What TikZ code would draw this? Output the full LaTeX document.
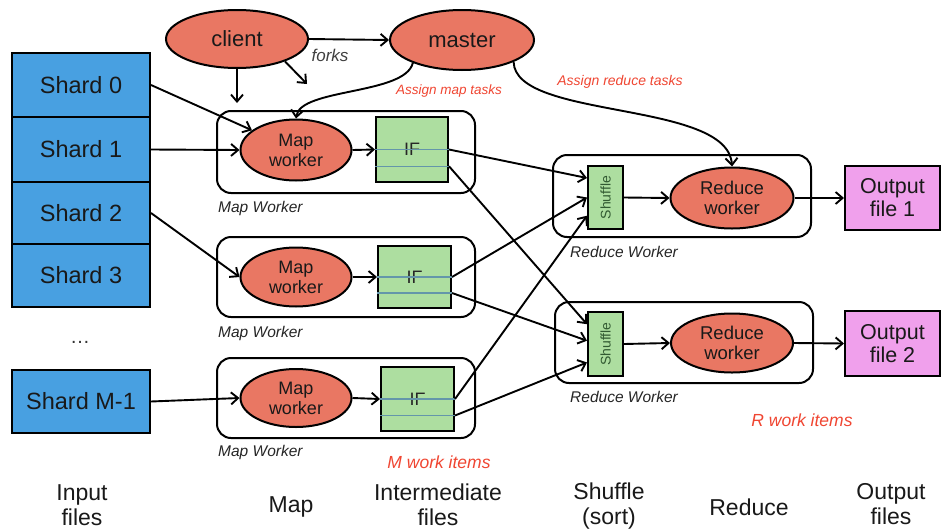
\documentclass[tikz,border=0pt]{standalone}
\usepackage{fontspec}
\setmainfont{Liberation Sans}
\usetikzlibrary{arrows.meta,shapes.geometric,calc}
\definecolor{shardblue}{RGB}{72,160,225}
\definecolor{ellred}{RGB}{233,119,99}
\definecolor{ifgreen}{RGB}{173,222,160}
\definecolor{outpink}{RGB}{240,160,236}
\definecolor{redtext}{RGB}{240,70,50}
\definecolor{ifline}{RGB}{100,150,170}
\definecolor{shtext}{RGB}{50,90,50}
\begin{document}
\begin{tikzpicture}[x=1pt,y=-1pt,
  ar/.style={line width=1.9pt,-{Straight Barb[length=7pt,width=12pt,line width=1.9pt]}},
  shard/.style={draw,line width=2pt,fill=shardblue,minimum width=138pt,inner sep=0pt,
    font=\fontsize{23.5}{25}\selectfont,text=black!90},
  ell/.style={ellipse,draw,line width=2pt,fill=ellred,inner sep=0pt,align=center,text=black!90},
  wbox/.style={draw,line width=2pt,rounded corners=14pt,inner sep=0pt},
  ifbox/.style={draw,line width=2pt,fill=ifgreen,inner sep=0pt,
    font=\fontsize{18}{20}\selectfont,text=black!85},
  shbox/.style={draw,line width=2pt,fill=ifgreen,inner sep=0pt,minimum width=35pt},
  outbox/.style={draw,line width=2pt,fill=outpink,inner sep=0pt,minimum width=95pt,
    align=center,font=\fontsize{21.5}{23}\selectfont,text=black!90},
  sublabel/.style={font=\fontsize{15.5}{17}\selectfont\itshape,text=black!85,anchor=west,inner sep=0pt},
  redlabel/.style={font=\fontsize{14}{16}\selectfont\itshape,text=redtext,inner sep=0pt},
  biglabel/.style={font=\fontsize{17.5}{19}\selectfont\itshape,text=redtext,inner sep=0pt},
  bottom/.style={font=\fontsize{23}{25}\selectfont,text=black!90,align=center,inner sep=0pt},
  ifsep/.style={line width=1.4pt,ifline}
]
\useasboundingbox[fill=white] (0,0) rectangle (941,530);

% shards
\node[shard,minimum height=64pt] (s0) at (81,85) {Shard 0};
\node[shard,minimum height=65pt] (s1) at (81,149.5) {Shard 1};
\node[shard,minimum height=62pt] (s2) at (81,213) {Shard 2};
\node[shard,minimum height=63pt] (s3) at (81,275.5) {Shard 3};
\node[shard,minimum height=63pt] (sm) at (81,401.5) {Shard M-1};
\node[font=\fontsize{20}{22}\selectfont,text=black!80] (dots) at (80,342) {\dots};

% worker boxes
\node[wbox,minimum width=258pt,minimum height=82pt] (mb1) at (346,152) {};
\node[wbox,minimum width=258pt,minimum height=80pt] (mb2) at (346,277) {};
\node[wbox,minimum width=258pt,minimum height=80pt] (mb3) at (346,398) {};
\node[wbox,minimum width=258pt,minimum height=82pt] (rb1) at (682,196) {};
\node[wbox,minimum width=258pt,minimum height=81pt] (rb2) at (684,342.5) {};

% client / master
\node[ell,minimum width=142pt,minimum height=58pt,font=\fontsize{22}{24}\selectfont] (client) at (237,39) {client};
\node[ell,minimum width=144pt,minimum height=60pt,font=\fontsize{22}{24}\selectfont] (master) at (462,40) {master};

% map workers
\node[ell,minimum width=111pt,minimum height=61pt,font=\fontsize{18}{20}\selectfont] (mw1) at (296,150) {Map\\worker};
\node[ell,minimum width=111pt,minimum height=59pt,font=\fontsize{18}{20}\selectfont] (mw2) at (296,277) {Map\\worker};
\node[ell,minimum width=111pt,minimum height=58pt,font=\fontsize{18}{20}\selectfont] (mw3) at (296,398) {Map\\worker};

% intermediate files
\node[ifbox,minimum width=72pt,minimum height=65pt] (if1) at (412,149.5) {IF};
\node[ifbox,minimum width=73pt,minimum height=62pt] (if2) at (414.5,277) {IF};
\node[ifbox,minimum width=73pt,minimum height=64pt] (if3) at (417.5,399) {IF};
\foreach \f in {if1,if2,if3}{
  \draw[ifsep] (\f.west) -- (\f.east);
  \draw[ifsep] ($(\f.north west)!0.75!(\f.south west)$) -- ($(\f.north east)!0.75!(\f.south east)$);
}

% shuffle
\node[shbox,minimum height=63pt] (sh1) at (605.5,197.5) {};
\node[shbox,minimum height=64pt] (sh2) at (605.5,344) {};
\node[rotate=90,font=\fontsize{14}{15}\selectfont,text=shtext,inner sep=0pt] (sh1t) at (sh1) {Shuffle};
\node[rotate=90,font=\fontsize{14}{15}\selectfont,text=shtext,inner sep=0pt] (sh2t) at (sh2) {Shuffle};

% reduce workers
\node[ell,minimum width=123pt,minimum height=61pt,font=\fontsize{18.5}{20.5}\selectfont] (rw1) at (732,198) {Reduce\\worker};
\node[ell,minimum width=122pt,minimum height=59pt,font=\fontsize{18.5}{20.5}\selectfont] (rw2) at (732,343) {Reduce\\worker};

% outputs
\node[outbox,minimum height=64pt] (out1) at (892.5,198) {Output\\file 1};
\node[outbox,minimum height=65pt] (out2) at (892.5,343.5) {Output\\file 2};

% labels
\node[font=\fontsize{17}{19}\selectfont\itshape,text=black!75,inner sep=0pt] (forks) at (330,55) {forks};
\node[redlabel,font=\fontsize{13.5}{15}\selectfont\itshape] (amt) at (449,91) {Assign map tasks};
\node[redlabel] (art) at (620,82) {Assign reduce tasks};
\node[sublabel] (l1) at (218,208) {Map Worker};
\node[sublabel] (l2) at (218,333) {Map Worker};
\node[sublabel] (l3) at (218,452) {Map Worker};
\node[sublabel] (l4) at (570,252) {Reduce Worker};
\node[sublabel] (l5) at (570,397) {Reduce Worker};
\node[biglabel] (mwi) at (439,462) {M work items};
\node[biglabel] (rwi) at (802,420) {R work items};

\node[bottom] (b1) at (82,505) {Input\\files};
\node[bottom] (b2) at (291,507) {Map};
\node[bottom] (b3) at (438,505) {Intermediate\\files};
\node[bottom] (b4) at (609,506) {Shuffle\\(sort)};
\node[bottom] (b5) at (749,507) {Reduce};
\node[bottom] (b6) at (891,504) {Output\\files};

% connectors
\coordinate (c1) at (237,103);
\coordinate (c2) at (307,84);
\draw[ar] (client.east) -- (master.west);
\draw[ar] (client.south) -- (c1);
\draw[ar] (client.-25) -- (c2);
\draw[ar] (master.205) .. controls (405,95) and (300,88) .. (mw1.north);
\draw[ar] (master.-23) .. controls (515,120) and (728,100) .. (rw1.north);

\draw[ar] (s0.east) -- (mw1);
\draw[ar] (s1.east) -- (mw1.west);
\draw[ar] (s2.east) -- (mw2.west);
\draw[ar] (sm.east) -- (mw3.west);

\draw[ar] (mw1.east) -- (if1.west);
\draw[ar] (mw2.east) -- (if2.west);
\draw[ar] (mw3.east) -- (if3.west);

\draw[ar] (if1.east) -- ($(sh1.north west)!0.2!(sh1.south west)$);
\draw[ar] ($(if1.north east)!0.75!(if1.south east)$) -- ($(sh2.north west)!0.2!(sh2.south west)$);
\draw[ar] (if2.east) -- ($(sh1.north west)!0.5!(sh1.south west)$);
\draw[ar] ($(if2.north east)!0.75!(if2.south east)$) -- ($(sh2.north west)!0.45!(sh2.south west)$);
\draw[ar] (if3.east) -- ($(sh1.north west)!0.78!(sh1.south west)$);
\draw[ar] ($(if3.north east)!0.75!(if3.south east)$) -- ($(sh2.north west)!0.78!(sh2.south west)$);

\draw[ar] (sh1.east) -- (rw1.west);
\draw[ar] (sh2.east) -- (rw2.west);
\draw[ar] (rw1.east) -- (out1.west);
\draw[ar] (rw2.east) -- (out2.west);
\end{tikzpicture}
\end{document}
